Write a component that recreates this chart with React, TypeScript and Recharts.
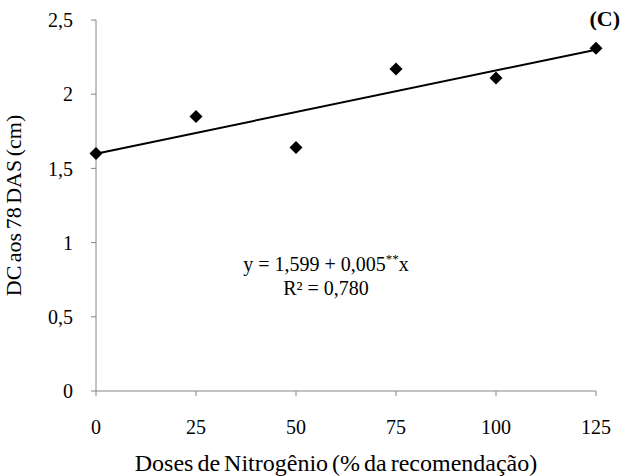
import React from 'react';
import { ScatterChart, Scatter, XAxis, YAxis, Label } from 'recharts';

const doses = [0, 25, 50, 75, 100, 125];
const dcValues = [1.6, 1.85, 1.64, 2.17, 2.11, 2.31];
const trendX = [0, 125];
const trendY = [1.599, 2.3];
const xTicks = [0, 25, 50, 75, 100, 125];
const yTicks = [0, 0.5, 1, 1.5, 2, 2.5];

const points = doses.map((x, i) => ({ x, y: dcValues[i] }));
const trend = trendX.map((x, i) => ({ x, y: trendY[i] }));

const FONT = '"Liberation Serif", "Times New Roman", serif';
const AXIS = '#868686';

const Diamond = (props: any) => {
  const { cx, cy } = props;
  const r = 6.5;
  return (
    <polygon
      points={`${cx},${cy - r} ${cx + r},${cy} ${cx},${cy + r} ${cx - r},${cy}`}
      fill="#000"
    />
  );
};

const Empty = () => <g />;

export default function App() {
  return (
    <div style={{ position: 'absolute', left: 0, top: 0, width: 622, height: 476, background: '#fff' }}>
      <ScatterChart width={622} height={476} margin={{ top: 20, right: 26, bottom: 40, left: 36 }}>
        <XAxis
          type="number"
          dataKey="x"
          domain={[0, 125]}
          ticks={xTicks}
          interval={0}
          stroke={AXIS}
          tickSize={5}
          tickMargin={24}
          height={45}
          tick={{ fill: '#000', fontFamily: FONT, fontSize: 20 }}
          tickLine={{ stroke: AXIS }}
          axisLine={{ stroke: AXIS }}
        >
          <Label
            value="Doses de Nitrogênio (% da recomendação)"
            position="bottom"
            offset={18}
            dx={-10}
            style={{ fill: '#000', fontFamily: FONT, fontSize: 24, wordSpacing: -2 }}
          />
        </XAxis>
        <YAxis
          type="number"
          dataKey="y"
          domain={[0, 2.5]}
          ticks={yTicks}
          interval={0}
          width={60}
          tickSize={5}
          tickMargin={18}
          tickFormatter={(v: number) => String(v).replace('.', ',')}
          tick={{ fill: '#000', fontFamily: FONT, fontSize: 20 }}
          tickLine={{ stroke: AXIS }}
          axisLine={{ stroke: AXIS }}
        >
          <Label
            value="DC aos 78 DAS (cm)"
            angle={-90}
            position="left"
            offset={23}
            style={{ fill: '#000', fontFamily: FONT, fontSize: 22, textAnchor: 'middle', wordSpacing: -2 }}
          />
        </YAxis>
        <Scatter
          data={trend}
          line={{ stroke: '#000', strokeWidth: 2 }}
          shape={Empty}
          isAnimationActive={false}
        />
        <Scatter data={points} shape={Diamond} isAnimationActive={false} />
      </ScatterChart>
      <div
        style={{
          position: 'absolute',
          left: 200,
          top: 252,
          width: 252,
          textAlign: 'center',
          fontFamily: FONT,
          fontSize: 20,
          lineHeight: '24px',
          color: '#000',
        }}
      >
        <div>
          y = 1,599 + 0,005<sup style={{ fontSize: 13, verticalAlign: 'top', lineHeight: '14px' }}>**</sup>x
        </div>
        <div>R² = 0,780</div>
      </div>
      <div
        style={{
          position: 'absolute',
          right: 2,
          top: 6,
          fontFamily: FONT,
          fontSize: 22,
          fontWeight: 'bold',
          color: '#000',
        }}
      >
        (C)
      </div>
    </div>
  );
}
